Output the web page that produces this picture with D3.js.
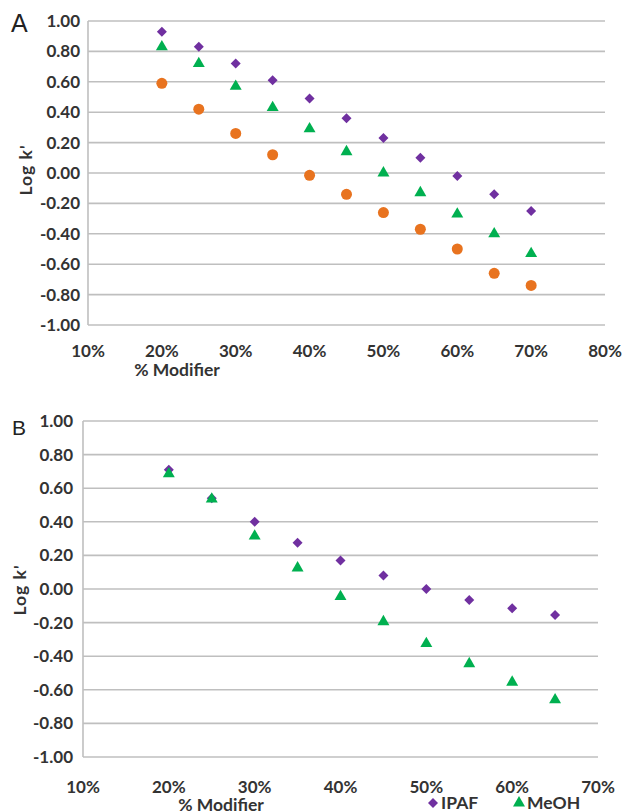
<!DOCTYPE html>
<html>
<head>
<meta charset="utf-8">
<script src="https://cdn.jsdelivr.net/npm/d3@7"></script>
<style>
  html, body { margin: 0; padding: 0; background: #fff; }
  svg { display: block; }
  .tick-label { font-family: Lato, "Open Sans", sans-serif; font-weight: 700; font-size: 17px; fill: #333; }
  .axis-title { font-family: Lato, "Open Sans", sans-serif; font-weight: 700; font-size: 17.5px; fill: #333; }
  .panel-letter { font-family: "Liberation Sans", Arial, sans-serif; fill: #222; }
</style>
</head>
<body>
<svg id="chart" width="622" height="812"></svg>
<script>
// Panel A: log k' vs % modifier, three series
const modifierA = [20, 25, 30, 35, 40, 45, 50, 55, 60, 65, 70];
const ipafA   = [0.93, 0.83, 0.72, 0.61, 0.49, 0.36, 0.23, 0.10, -0.02, -0.14, -0.25];
const meohA   = [0.83, 0.72, 0.57, 0.43, 0.29, 0.14, 0.00, -0.13, -0.27, -0.40, -0.53];
const circleA = [0.59, 0.42, 0.26, 0.12, -0.015, -0.14, -0.26, -0.37, -0.50, -0.66, -0.74];

// Panel B: IPAF and MeOH
const modifierB = [20, 25, 30, 35, 40, 45, 50, 55, 60, 65];
const ipafB = [0.71, 0.54, 0.40, 0.275, 0.17, 0.08, 0.00, -0.065, -0.115, -0.155];
const meohB = [0.685, 0.535, 0.315, 0.125, -0.045, -0.195, -0.325, -0.445, -0.555, -0.66];

const yTicks = [1.0, 0.8, 0.6, 0.4, 0.2, 0.0, -0.2, -0.4, -0.6, -0.8, -1.0];
const xTicksA = [10, 20, 30, 40, 50, 60, 70, 80];
const xTicksB = [10, 20, 30, 40, 50, 60, 70];

const PURPLE = "#7030A0", GREEN = "#00B050", ORANGE = "#E8731F", GRID = "#BFBFBF";

const svg = d3.select("#chart");

const shapes = {
  diamond: { type: d3.symbolSquare, size: 50, rotate: 45 },
  triangle: { type: d3.symbolTriangle, size: 62, rotate: 0 },
  circle: { type: d3.symbolCircle, size: 95, rotate: 0 }
};

// spreadsheet-style labels use a plain hyphen for negatives
const fmtY = d => d3.format(".2f")(d).replace("\u2212", "-");

function drawPanel(cfg) {
  const x = d3.scaleLinear().domain(cfg.xDomain).range([cfg.left, cfg.right]);
  const y = d3.scaleLinear().domain([-1, 1]).range([cfg.bottom, cfg.top]);
  const g = svg.append("g");

  // horizontal gridlines
  g.selectAll("line.grid").data(yTicks).join("line")
    .attr("x1", cfg.left).attr("x2", cfg.right)
    .attr("y1", d => y(d)).attr("y2", d => y(d))
    .attr("stroke", GRID).attr("stroke-width", 1.6);

  // left axis line
  g.append("line")
    .attr("x1", cfg.left).attr("x2", cfg.left)
    .attr("y1", cfg.top).attr("y2", cfg.bottom)
    .attr("stroke", GRID).attr("stroke-width", 1.6);

  // y tick labels
  g.selectAll("text.ylab").data(yTicks).join("text")
    .attr("class", "tick-label")
    .attr("x", cfg.left - cfg.yLabelGap)
    .attr("y", d => y(d))
    .attr("dy", "0.35em")
    .attr("text-anchor", "end")
    .text(fmtY);

  // x tick labels
  g.selectAll("text.xlab").data(cfg.xTicks).join("text")
    .attr("class", "tick-label")
    .attr("x", d => x(d))
    .attr("y", cfg.bottom + cfg.xLabelOffset)
    .attr("text-anchor", "middle")
    .text(d => d + "%");

  // axis titles
  g.append("text").attr("class", "axis-title")
    .attr("transform", `translate(${cfg.yTitleX},${cfg.yTitleY}) rotate(-90)`)
    .attr("text-anchor", "middle").attr("dy", "0.35em")
    .style("letter-spacing", "1px")
    .text("Log k'");
  g.append("text").attr("class", "axis-title")
    .attr("x", cfg.xTitleX).attr("y", cfg.xTitleY)
    .attr("text-anchor", "middle")
    .text("% Modifier");

  // panel letter
  g.append("text").attr("class", "panel-letter")
    .attr("x", cfg.letterX).attr("y", cfg.letterY)
    .style("font-size", cfg.letterSize + "px")
    .text(cfg.letter);

  // series markers
  cfg.series.forEach(s => {
    const sh = shapes[s.shape];
    const sym = d3.symbol().type(sh.type).size(sh.size);
    g.selectAll(null).data(s.values.map((v, i) => [cfg.xs[i], v])).join("path")
      .attr("d", sym)
      .attr("transform", d => `translate(${x(d[0])},${y(d[1])}) rotate(${sh.rotate})`)
      .attr("fill", s.color);
  });
  return { x, y, g };
}

drawPanel({
  letter: "A", letterX: 11, letterY: 32, letterSize: 25,
  left: 88, right: 605, top: 21, bottom: 325,
  xDomain: [10, 80], xTicks: xTicksA, xs: modifierA,
  yLabelGap: 8, xLabelOffset: 32,
  yTitleX: 26, yTitleY: 170,
  xTitleX: 177, xTitleY: 376,
  series: [
    { values: ipafA, shape: "diamond", color: PURPLE },
    { values: meohA, shape: "triangle", color: GREEN },
    { values: circleA, shape: "circle", color: ORANGE }
  ]
});

drawPanel({
  letter: "B", letterX: 12, letterY: 435, letterSize: 21,
  left: 83, right: 598, top: 421, bottom: 757,
  xDomain: [10, 70], xTicks: xTicksB, xs: modifierB,
  yLabelGap: 10, xLabelOffset: 36,
  yTitleX: 20, yTitleY: 590,
  xTitleX: 221, xTitleY: 811,
  series: [
    { values: ipafB, shape: "diamond", color: PURPLE },
    { values: meohB, shape: "triangle", color: GREEN }
  ]
});

// legend for panel B
const legendItems = [
  { name: "IPAF", shape: "diamond", color: PURPLE, x: 433 },
  { name: "MeOH", shape: "triangle", color: GREEN, x: 519 }
];
const lg = svg.append("g");
legendItems.forEach(it => {
  const sh = shapes[it.shape];
  lg.append("path")
    .attr("d", d3.symbol().type(sh.type).size(sh.size)())
    .attr("transform", `translate(${it.x},803) rotate(${sh.rotate})`)
    .attr("fill", it.color);
  lg.append("text").attr("class", "axis-title")
    .attr("x", it.x + 8).attr("y", 809)
    .text(it.name);
});
</script>
</body>
</html>
